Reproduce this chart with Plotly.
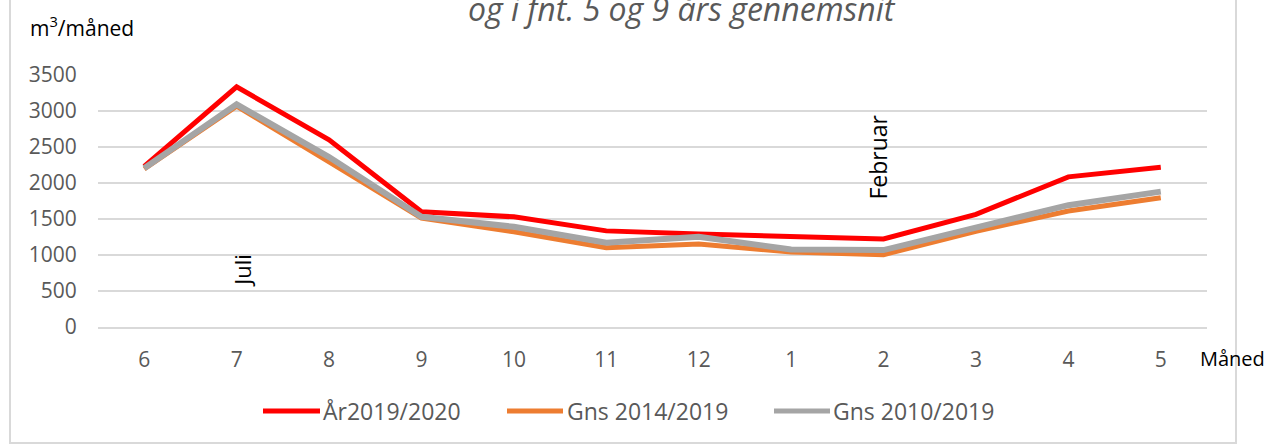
import plotly.graph_objects as go

months = ["6", "7", "8", "9", "10", "11", "12", "1", "2", "3", "4", "5"]
aar_2019_2020 = [2230, 3335, 2600, 1600, 1530, 1335, 1290, 1262, 1222, 1565, 2085, 2218]
gns_2014_2019 = [2195, 3068, 2295, 1512, 1322, 1102, 1152, 1040, 1005, 1330, 1612, 1795]
gns_2010_2019 = [2205, 3092, 2360, 1530, 1392, 1170, 1252, 1078, 1068, 1382, 1692, 1880]
series_names = ["År2019/2020", "Gns 2014/2019", "Gns 2010/2019"]
series_colors = ["#FF0000", "#ED7D31", "#A5A5A5"]
series_widths = [5, 5, 6]
yticks = [0, 500, 1000, 1500, 2000, 2500, 3000, 3500]

W, H = 1271, 445
L, R, T, B = 98, 1207, 75, 327

def px(x):
    return (x - L) / (R - L)

def py(y):
    return 1 + (T - y) / (B - T)

FONT = "Open Sans"
fig = go.Figure()
for name, vals, col, w in zip(series_names, [aar_2019_2020, gns_2014_2019, gns_2010_2019],
                              series_colors, series_widths):
    fig.add_trace(go.Scatter(x=months, y=vals, name=name, mode="lines",
                             line=dict(color=col, width=w), showlegend=False))

shapes = []
annotations = []
# border
shapes.append(dict(type="rect", xref="paper", yref="paper", x0=px(10), x1=px(1236),
                   y0=py(443), y1=py(-10), line=dict(color="#D9D9D9", width=2), layer="below"))
# custom legend
leg_y = py(411)
for (x0, x1, tx), name, col in zip([(263, 320, 321), (507, 563, 565), (774, 830, 831)],
                                   series_names, series_colors):
    shapes.append(dict(type="line", xref="paper", yref="paper", x0=px(x0), x1=px(x1),
                       y0=leg_y, y1=leg_y, line=dict(color=col, width=5)))
    annotations.append(dict(xref="paper", yref="paper", x=px(tx), y=leg_y, text=name,
                            showarrow=False, xanchor="left", yanchor="middle",
                            font=dict(family=FONT, size=23, color="#595959")))

annotations += [
    dict(xref="paper", yref="paper", x=px(682), y=py(32), text="<i>og i fnt. 5 og 9 års gennemsnit</i>",
         showarrow=False, xanchor="center", yanchor="bottom",
         font=dict(family=FONT, size=32, color="#595959")),
    dict(xref="paper", yref="paper", x=px(28), y=py(26), text="m<sup>3</sup>/måned",
         showarrow=False, xanchor="left", yanchor="middle",
         font=dict(family=FONT, size=21, color="#000000")),
    dict(xref="paper", yref="paper", x=px(1198), y=py(358), text="Måned",
         showarrow=False, xanchor="left", yanchor="middle",
         font=dict(family=FONT, size=20, color="#000000")),
    dict(x=1, y=790, text="Juli", textangle=-90, showarrow=False, xshift=5,
         font=dict(family=FONT, size=22, color="#000000")),
    dict(x=8, y=2360, text="Februar", textangle=-90, showarrow=False, xshift=-5,
         font=dict(family=FONT, size=23, color="#000000")),
]

fig.update_layout(
    width=W, height=H,
    margin=dict(l=L, r=W - R, t=T, b=H - B, pad=0),
    paper_bgcolor="white", plot_bgcolor="white",
    shapes=shapes, annotations=annotations,
    xaxis=dict(type="category", range=[-0.5, 11.5], showgrid=False, zeroline=False,
               showline=True, linecolor="#D9D9D9", linewidth=1.5,
               ticks="outside", ticklen=13, tickcolor="rgba(0,0,0,0)",
               tickfont=dict(family=FONT, size=21, color="#595959")),
    yaxis=dict(range=[0, 3500], tickvals=yticks, showgrid=True, gridcolor="#D9D9D9",
               gridwidth=1.5, zeroline=False, showline=False,
               ticks="outside", ticklen=16, tickcolor="rgba(0,0,0,0)",
               tickfont=dict(family=FONT, size=21, color="#595959")),
)

fig.write_html("out.html", config={"displayModeBar": False},
               post_script="document.body.style.margin='0';document.body.style.overflow='hidden';")
